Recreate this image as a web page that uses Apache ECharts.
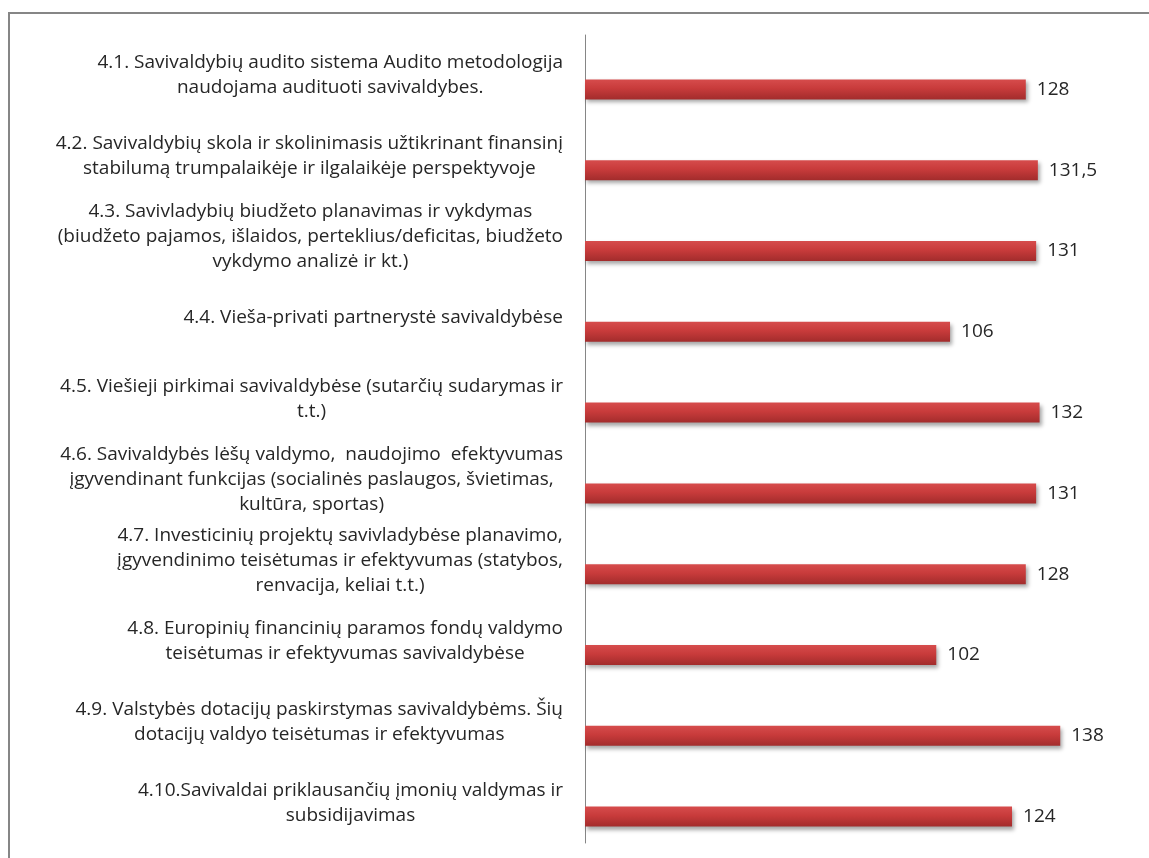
<!DOCTYPE html>
<html>
<head>
<meta charset="utf-8">
<script src="https://cdn.jsdelivr.net/npm/echarts@6/dist/echarts.min.js"></script>
<style>
html,body{margin:0;padding:0;background:#fff;}
#c{width:1149px;height:858px;}
</style>
</head>
<body>
<div id="c"></div>
<script>
const categories = [
  "4.1. Savivaldybių audito sistema Audito metodologija\nnaudojama audituoti savivaldybes.",
  "4.2. Savivaldybių skola ir skolinimasis užtikrinant finansinį\nstabilumą trumpalaikėje ir ilgalaikėje perspektyvoje",
  "4.3. Savivladybių biudžeto planavimas ir vykdymas\n(biudžeto pajamos, išlaidos, perteklius/deficitas, biudžeto\nvykdymo analizė ir kt.)",
  "4.4. Vieša-privati partnerystė savivaldybėse",
  "4.5. Viešieji pirkimai savivaldybėse (sutarčių sudarymas ir\nt.t.)",
  "4.6. Savivaldybės lėšų valdymo,  naudojimo  efektyvumas\nįgyvendinant funkcijas (socialinės paslaugos, švietimas,\nkultūra, sportas)",
  "4.7. Investicinių projektų savivladybėse planavimo,\nįgyvendinimo teisėtumas ir efektyvumas (statybos,\nrenvacija, keliai t.t.)",
  "4.8. Europinių financinių paramos fondų valdymo\nteisėtumas ir efektyvumas savivaldybėse",
  "4.9. Valstybės dotacijų paskirstymas savivaldybėms. Šių\ndotacijų valdyo teisėtumas ir efektyvumas",
  "4.10.Savivaldai priklausančių įmonių valdymas ir\nsubsidijavimas"
];
const values = [128, 131.5, 131, 106, 132, 131, 128, 102, 138, 124];
const emptyValues = categories.map(() => null);

const FONT = '"Open Sans"';
const TXT = '#262626';

const chart = echarts.init(document.getElementById('c'), null, {renderer: 'canvas'});
chart.setOption({
  animation: false,
  backgroundColor: '#fff',
  graphic: [{
    type: 'rect',
    shape: {x: 9, y: 13, width: 1160, height: 870},
    style: {fill: 'none', stroke: '#868686', lineWidth: 2},
    silent: true
  }],
  grid: {left: 585, right: 13, top: 35, bottom: 15, containLabel: false},
  xAxis: {
    type: 'value', min: 0, max: 160,
    show: false
  },
  yAxis: {
    type: 'category',
    inverse: true,
    data: categories,
    axisLine: {show: true, lineStyle: {color: '#868686', width: 1}},
    axisTick: {show: false},
    splitLine: {show: false},
    axisLabel: {
      margin: 22,
      align: 'right',
      formatter: function (v) {
        return v.split('\n').map(l => '{c|' + l + '}').join('\n');
      },
      rich: {
        c: {align: 'center', fontFamily: FONT, fontSize: 19, color: TXT, lineHeight: 25}
      }
    }
  },
  series: [
    {
      type: 'bar',
      data: emptyValues,
      barWidth: 20,
      barGap: '40%',
      silent: true
    },
    {
      type: 'bar',
      data: values,
      barWidth: 20,
      itemStyle: {
        color: new echarts.graphic.LinearGradient(0, 0, 0, 1, [
          {offset: 0, color: '#d64c4c'},
          {offset: 0.45, color: '#c83b3b'},
          {offset: 1, color: '#a22c2c'}
        ]),
        shadowColor: 'rgba(0,0,0,0.35)',
        shadowBlur: 4,
        shadowOffsetX: 2,
        shadowOffsetY: 3
      },
      label: {
        show: true,
        position: 'right',
        distance: 11,
        fontFamily: FONT,
        fontSize: 19,
        color: TXT,
        formatter: p => String(p.value).replace('.', ',')
      }
    }
  ]
});
</script>
</body>
</html>
